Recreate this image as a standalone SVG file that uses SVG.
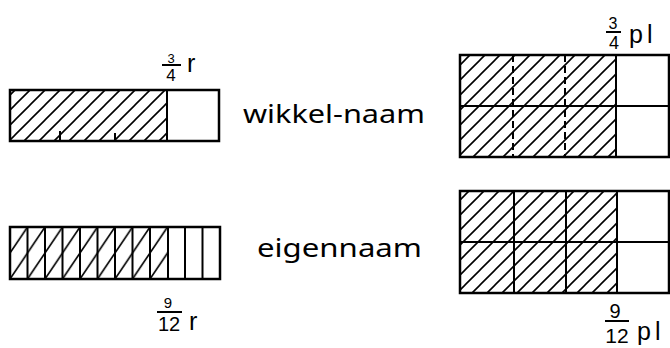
<svg xmlns="http://www.w3.org/2000/svg" width="670" height="348" viewBox="0 0 670 348">
<style>
.box{fill:none;stroke:#000;stroke-width:2.5}
.ln{stroke:#000;stroke-width:2;fill:none}
.dash{stroke:#000;stroke-width:2;stroke-dasharray:7 4;fill:none}
.t{font-family:"Noto Sans","DejaVu Sans",sans-serif;fill:#000}
.n{font-family:"Liberation Sans","Noto Sans",sans-serif;fill:#000}
.lbl{font-size:26px}
.unit{font-size:25px}
</style>
<defs>
<pattern id="hatch" patternUnits="userSpaceOnUse" width="15" height="15">
<path d="M0,15 L15,0 M-4,4 L4,-4 M11,19 L19,11" stroke="#000" stroke-width="1.6"/>
</pattern>
<pattern id="hatch2" patternUnits="userSpaceOnUse" x="10" y="227" width="17.5" height="26">
<path d="M0,26 L17.5,0 M-3,4.5 L3,-4.5 M14.5,30.5 L20.5,21.5" stroke="#000" stroke-width="1.6"/>
</pattern>
</defs>
<rect width="670" height="348" fill="#fff"/>

<g id="bar-wikkel">
<rect x="10" y="90" width="157" height="51" fill="url(#hatch)"/>
<rect class="box" x="10" y="90" width="209" height="51"/>
<line class="ln" x1="167" y1="90" x2="167" y2="141" stroke-width="3"/>
<path class="ln" d="M60,131V141M115,133V141"/>
</g>

<g id="frac-3-4-r">
<text class="n" x="171" y="62.5" font-size="13" text-anchor="middle">3</text>
<line class="ln" x1="162" y1="65" x2="181" y2="65"/>
<text class="n" x="171" y="81" font-size="17" text-anchor="middle">4</text>
<text class="n unit" x="187" y="72">r</text>
</g>

<g id="label-wikkel">
<text class="t lbl" x="243" y="123" textLength="182" lengthAdjust="spacingAndGlyphs">wikkel-naam</text>
</g>

<g id="bar-eigen">
<rect x="10" y="227" width="158" height="52" fill="url(#hatch2)"/>
<rect class="box" x="10" y="227" width="210" height="52"/>
<path class="ln" d="M27.5,227V279M45,227V279M62.5,227V279M80,227V279M97.5,227V279M115,227V279M132.5,227V279M150,227V279M185,227V279M202.5,227V279"/>
<line class="ln" x1="168" y1="227" x2="168" y2="279" stroke-width="3"/>
</g>

<g id="frac-9-12-r">
<text class="n" x="168" y="308" font-size="15" text-anchor="middle">9</text>
<line class="ln" x1="157" y1="312" x2="182" y2="312"/>
<text class="n" x="169" y="331" font-size="20" text-anchor="middle">12</text>
<text class="n unit" x="189" y="330">r</text>
</g>

<g id="label-eigen">
<text class="t lbl" x="257" y="257" textLength="165" lengthAdjust="spacingAndGlyphs">eigennaam</text>
</g>

<g id="grid-wikkel">
<rect x="460" y="55" width="156" height="102" fill="url(#hatch)"/>
<rect class="box" x="460" y="55" width="209" height="102"/>
<line class="ln" x1="460" y1="106" x2="669" y2="106"/>
<line class="dash" x1="513" y1="55" x2="513" y2="157"/>
<line class="dash" x1="565" y1="55" x2="565" y2="157"/>
<line class="ln" x1="616" y1="55" x2="616" y2="157" stroke-width="3"/>
</g>

<g id="frac-3-4-pl">
<text class="n" x="613" y="29" font-size="16" text-anchor="middle">3</text>
<line class="ln" x1="606" y1="32" x2="621" y2="32"/>
<text class="n" x="614" y="49" font-size="18" text-anchor="middle">4</text>
<text class="n unit" x="629" y="43" letter-spacing="4">pl</text>
</g>

<g id="grid-eigen">
<rect x="460" y="191" width="157" height="102" fill="url(#hatch)"/>
<rect class="box" x="460" y="191" width="209" height="102"/>
<line class="ln" x1="460" y1="242" x2="669" y2="242"/>
<line class="ln" x1="514" y1="191" x2="514" y2="293"/>
<line class="ln" x1="566" y1="191" x2="566" y2="293"/>
<line class="ln" x1="617" y1="191" x2="617" y2="293" stroke-width="3"/>
</g>

<g id="frac-9-12-pl">
<text class="n" x="615" y="318" font-size="20" text-anchor="middle">9</text>
<line class="ln" x1="605" y1="321" x2="629" y2="321"/>
<text class="n" x="617" y="343" font-size="21" text-anchor="middle">12</text>
<text class="n unit" x="637" y="340" letter-spacing="4">pl</text>
</g>
</svg>
